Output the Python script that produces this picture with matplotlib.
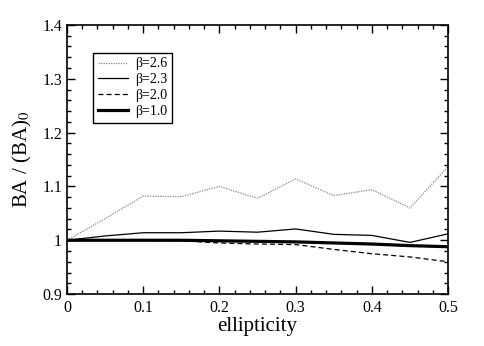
import numpy as np
import matplotlib.pyplot as plt
from matplotlib.ticker import MultipleLocator, FuncFormatter

plt.rcParams['font.family'] = ['Liberation Serif', 'DejaVu Serif']
plt.rcParams['mathtext.fontset'] = 'stix'

# ellipticity values
ell = [0.0, 0.05, 0.1, 0.15, 0.2, 0.25, 0.3, 0.35, 0.4, 0.45, 0.5]

# BA/(BA)_0 for each beta
ba_26 = [1.0, 1.040, 1.082, 1.081, 1.100, 1.078, 1.114, 1.083, 1.094, 1.060, 1.137]
ba_23 = [1.0, 1.008, 1.014, 1.014, 1.017, 1.015, 1.021, 1.011, 1.009, 0.996, 1.012]
ba_20 = [1.0, 1.0, 1.0, 0.999, 0.995, 0.993, 0.992, 0.983, 0.975, 0.969, 0.960]
ba_10 = [1.0, 1.0, 1.0, 1.0, 0.999, 0.998, 0.997, 0.995, 0.993, 0.990, 0.988]

fig = plt.figure(figsize=(4.85, 3.46), dpi=100)
ax = fig.add_axes([0.138, 0.150, 0.786, 0.778])

ax.plot(ell, ba_26, color='#888888', lw=0.9, ls=(0, (1, 1)), label='β=2.6')
ax.plot(ell, ba_23, color='black', lw=0.9, ls='-', label='β=2.3')
ax.plot(ell, ba_20, color='black', lw=0.9, ls=(0, (4, 2.5)), label='β=2.0')
ax.plot(ell, ba_10, color='black', lw=2.3, ls='-', label='β=1.0')

ax.set_xlim(0, 0.5)
ax.set_ylim(0.9, 1.4)
ax.xaxis.set_major_locator(MultipleLocator(0.1))
ax.xaxis.set_minor_locator(MultipleLocator(0.02))
ax.yaxis.set_major_locator(MultipleLocator(0.1))
ax.yaxis.set_minor_locator(MultipleLocator(0.02))
fmt = FuncFormatter(lambda v, p: '%g' % round(v, 3))
ax.xaxis.set_major_formatter(fmt)
ax.yaxis.set_major_formatter(fmt)
ax.tick_params(which='both', direction='in', top=True, right=True, labelsize=11.5, width=1)
ax.tick_params(which='major', length=6)
ax.tick_params(which='minor', length=3)
ax.tick_params(axis='x', pad=4)
for s in ax.spines.values():
    s.set_linewidth(1.2)

ax.set_xlabel('ellipticity', fontsize=15, labelpad=1)
ax.set_ylabel(r'BA / (BA)$_0$', fontsize=15, labelpad=6)

leg = ax.legend(loc='upper left', bbox_to_anchor=(0.068, 0.897), fontsize=10,
                frameon=True, fancybox=False, edgecolor='black', framealpha=1,
                handlelength=2.2, handletextpad=0.5, labelspacing=0.2,
                borderpad=0.35, borderaxespad=0)
leg.get_frame().set_linewidth(1.0)

fig.savefig('out.png', dpi=100)
